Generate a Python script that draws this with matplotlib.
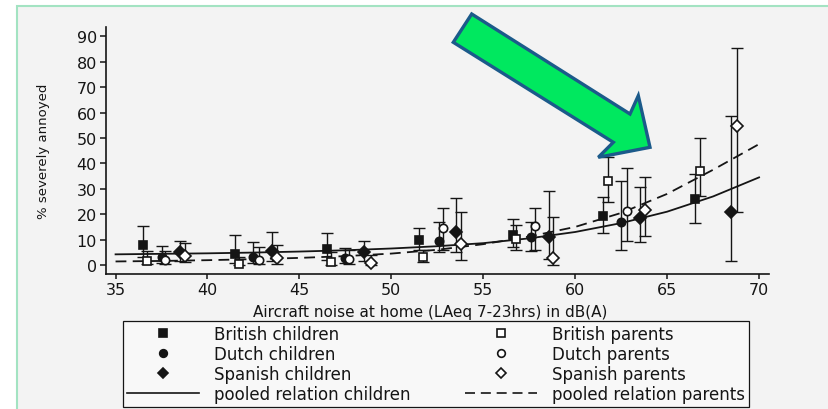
import matplotlib
matplotlib.use("Agg")
import matplotlib.pyplot as plt
from matplotlib.patches import Polygon, Rectangle
from matplotlib.lines import Line2D

# ---------------- data ----------------
bc_x = [36.5, 41.5, 46.5, 51.5, 56.6, 61.5, 66.5]
bc_y = [8.0, 4.3, 6.3, 10.0, 11.8, 19.2, 26.0]
bc_lo = [3.0, 0.8, 2.0, 6.0, 7.0, 12.6, 16.4]
bc_hi = [15.5, 11.8, 12.5, 14.4, 18.1, 26.6, 36.0]

bp_x = [36.7, 41.7, 46.7, 51.7, 56.8, 61.8, 66.8]
bp_y = [1.6, 0.3, 1.2, 3.0, 10.2, 33.2, 37.2]
bp_lo = [0.3, 0.0, 0.2, 1.0, 6.0, 24.9, 27.0]
bp_hi = [5.6, 3.0, 5.0, 6.0, 15.7, 42.4, 50.0]

dc_x = [37.5, 42.5, 47.5, 52.6, 57.6, 62.5]
dc_y = [3.0, 3.0, 2.6, 9.6, 10.9, 17.0]
dc_lo = [0.8, 0.8, 0.6, 5.0, 5.6, 6.0]
dc_hi = [7.5, 9.2, 6.7, 17.0, 17.0, 33.2]

dp_x = [37.7, 42.8, 47.7, 52.8, 57.8, 62.8]
dp_y = [2.0, 2.0, 2.4, 14.4, 15.2, 21.4]
dp_lo = [0.4, 0.4, 0.5, 6.0, 6.0, 9.6]
dp_hi = [5.5, 7.0, 6.0, 22.3, 22.3, 38.0]

sc_x = [38.5, 43.5, 48.5, 53.5, 58.6, 63.5, 68.5]
sc_y = [5.2, 5.6, 5.0, 12.9, 10.9, 18.5, 21.0]
sc_lo = [1.5, 1.5, 1.5, 5.0, 2.4, 9.2, 1.7]
sc_hi = [9.6, 13.0, 9.6, 26.3, 29.3, 30.6, 58.5]

sp_x = [38.8, 43.8, 48.9, 53.8, 58.8, 63.8, 68.8]
sp_y = [3.7, 2.6, 0.6, 8.3, 2.6, 21.8, 54.6]
sp_lo = [1.0, 0.5, 0.0, 2.1, 0.0, 11.5, 21.0]
sp_hi = [8.5, 8.0, 4.0, 20.7, 18.8, 34.5, 85.3]

curve_x = [35, 37.5, 40, 42.5, 45, 47.5, 50, 52.5, 55, 57.5, 60, 62.5, 65, 67.5, 70]
children_curve = [4.2, 4.4, 4.6, 4.9, 5.3, 5.8, 6.5, 7.4, 8.6, 10.5, 13.0, 16.5, 21.0, 27.0, 34.5]
parents_curve = [1.4, 1.6, 1.9, 2.3, 2.8, 3.5, 4.5, 6.0, 8.2, 11.2, 15.0, 20.5, 28.0, 37.5, 47.6]

x_ticks = [35, 40, 45, 50, 55, 60, 65, 70]
y_ticks = [0, 10, 20, 30, 40, 50, 60, 70, 80, 90]

labels_children = ["British children", "Dutch children", "Spanish children", "pooled relation children"]
labels_parents = ["British parents", "Dutch parents", "Spanish parents", "pooled relation parents"]
x_label = "Aircraft noise at home (LAeq 7-23hrs) in dB(A)"
y_label = "% severely annoyed"

# ---------------- figure ----------------
plt.rcParams["font.family"] = ["DejaVu Sans"]
W, H = 829, 410
fig = plt.figure(figsize=(W / 100, H / 100), dpi=100, facecolor="white")

# slide frame / scanned paper
fig.patches.append(Rectangle((17 / W, -0.05), 1.0, 1 - 7 / H + 0.05,
                             transform=fig.transFigure, facecolor="#f3f3f3",
                             edgecolor="#a3e3c2", lw=1.5, zorder=-10))

ax = fig.add_axes([106 / W, (H - 275) / H, (769 - 106) / W, (275 - 28) / H])
ax.set_zorder(1)
ax.set_facecolor("none")
ax.set_xlim(34.48, 70.54)
ax.set_ylim(-3.54, 93.7)

ink = "#151515"
for s in ["top", "right"]:
    ax.spines[s].set_visible(False)
for s in ["left", "bottom"]:
    ax.spines[s].set_color(ink)
    ax.spines[s].set_linewidth(1.2)

ax.set_xticks(x_ticks)
ax.set_yticks(y_ticks)
ax.tick_params(axis="x", length=3.5, width=1.1, pad=2.5, labelsize=11.5, colors=ink)
ax.tick_params(axis="y", length=4.5, width=1.1, pad=2, labelsize=11.5, colors=ink)

# pooled curves
ax.plot(curve_x, children_curve, color=ink, lw=1.3, zorder=3)
ax.plot(curve_x, parents_curve, color=ink, lw=1.3, linestyle=(0, (6, 3.5)), zorder=3)

def series(x, y, lo, hi, marker, filled, ms):
    yerr = [[yy - l for yy, l in zip(y, lo)], [h - yy for yy, h in zip(y, hi)]]
    ax.errorbar(x, y, yerr=yerr, fmt="none", ecolor=ink, elinewidth=1.0,
                capsize=4, capthick=1.0, zorder=4)
    ax.plot(x, y, linestyle="none", marker=marker, markersize=ms,
            markerfacecolor=ink if filled else "white", markeredgecolor=ink,
            markeredgewidth=1.2, zorder=5)

series(bc_x, bc_y, bc_lo, bc_hi, "s", True, 6)
series(bp_x, bp_y, bp_lo, bp_hi, "s", False, 6)
series(dc_x, dc_y, dc_lo, dc_hi, "o", True, 6)
series(dp_x, dp_y, dp_lo, dp_hi, "o", False, 6)
series(sc_x, sc_y, sc_lo, sc_hi, "D", True, 6)
series(sp_x, sp_y, sp_lo, sp_hi, "D", False, 6)

ax.set_xlabel(x_label, fontsize=11, color=ink)
ax.xaxis.set_label_coords(0.489, -0.121)
ax.set_ylabel(y_label, fontsize=9.5, color=ink)
ax.yaxis.set_label_coords(-0.085, 0.5)

# legend
def mk(marker, filled):
    return Line2D([], [], linestyle="none", marker=marker, markersize=5.5,
                  markerfacecolor=ink if filled else "white", markeredgecolor=ink,
                  markeredgewidth=1.2)

handles = [mk("s", True), mk("o", True), mk("D", True),
           Line2D([], [], color=ink, lw=1.2),
           mk("s", False), mk("o", False), mk("D", False),
           Line2D([], [], color=ink, lw=1.2, linestyle=(0, (6, 3.5)))]
labels = labels_children + labels_parents
leg = fig.legend(handles, labels, ncol=2, loc="upper left",
                 bbox_to_anchor=(123 / W, (H - 322) / H, (749 - 123) / W, 0.0),
                 mode="expand", fontsize=12, frameon=True, fancybox=False,
                 edgecolor=ink, facecolor="#f8f8f8", framealpha=1,
                 handlelength=4.3, handletextpad=0.9, labelspacing=0.12,
                 borderpad=0.25, borderaxespad=0, columnspacing=1.0)
leg.get_frame().set_linewidth(0.9)
for t in leg.get_texts():
    t.set_color(ink)

# green highlight arrow
pts_px = [(471.7, 15), (630, 115), (638.3, 96.7), (650, 148.3),
          (598.3, 158.3), (613.3, 143.3), (453.3, 43.3)]
arrow = Polygon([(x / W, 1 - y / H) for x, y in pts_px], closed=True,
                transform=fig.transFigure, facecolor="#00e85f",
                edgecolor="#1b5a8a", lw=2.4, joinstyle="miter", zorder=10)
fig.patches.append(arrow)

fig.savefig("out.png", dpi=100, facecolor="white")
